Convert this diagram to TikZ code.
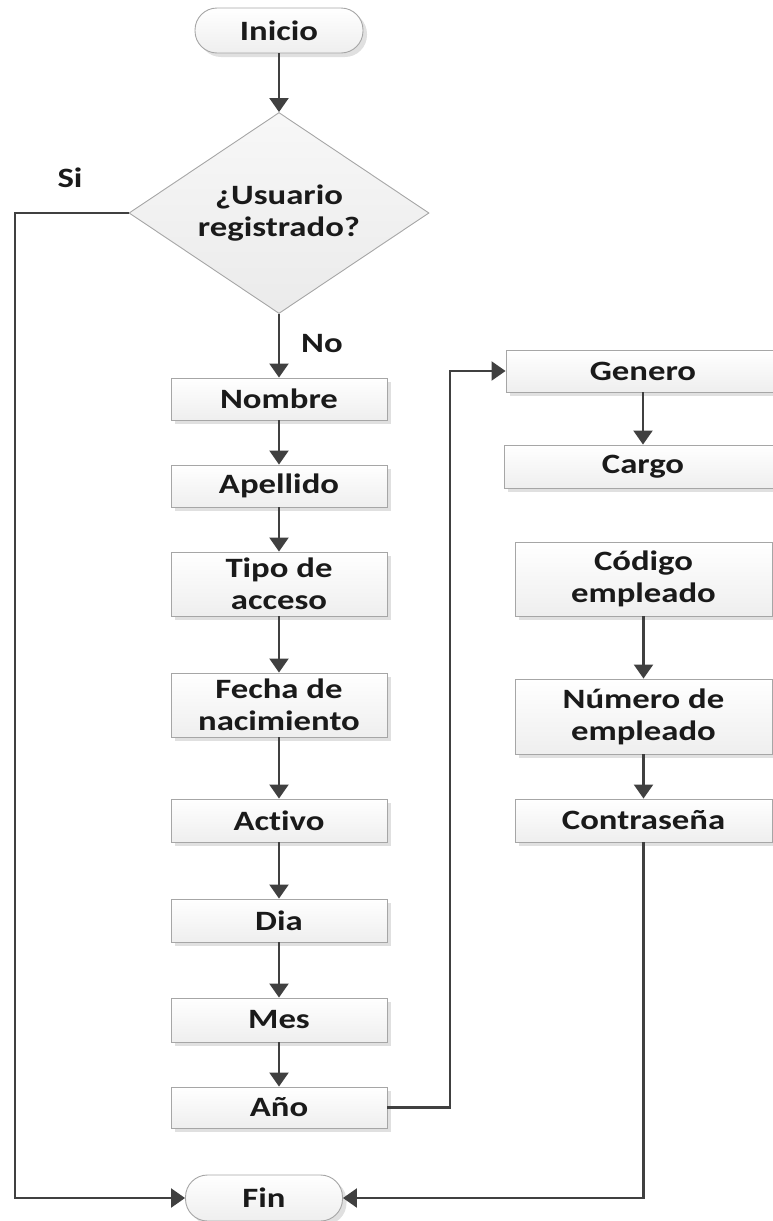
\documentclass[tikz,border=0pt]{standalone}
\usepackage{fontspec}
\setmainfont{Carlito}[FakeStretch=1.24, Ligatures={NoCommon}]
\usetikzlibrary{arrows.meta,shapes.geometric,shadows}
\definecolor{lineC}{HTML}{404040}
\definecolor{borderC}{HTML}{A6A6A6}
\definecolor{textC}{HTML}{1A1A1A}
\tikzset{
  lbl/.style={text=textC, font=\bfseries\fontsize{28}{32}\selectfont, inner sep=0pt},
  box/.style={draw=borderC, line width=0.9pt, top color=white, bottom color=gray!13,
    text=textC, align=center, inner sep=0pt, font=\bfseries\fontsize{28}{32}\selectfont,
    drop shadow={shadow xshift=4pt, shadow yshift=-4pt, fill=gray!45, opacity=0.55}},
  term/.style={box, rounded corners=22pt},
  decision/.style={diamond, draw=borderC, line width=0.9pt, top color=gray!6, bottom color=gray!16,
    text=textC, align=center, inner sep=0pt, aspect=1.49, font=\bfseries\fontsize{28}{32}\selectfont},
  conn/.style={draw=lineC, line width=2.2pt, -{Triangle[width=19pt,length=14pt]}},
  plainline/.style={draw=lineC, line width=2.2pt},
}
\begin{document}
\begin{tikzpicture}[x=1pt,y=-1pt]
\useasboundingbox (0,0) rectangle (773,1221);
\clip (0,0) rectangle (773,1221);
% left column
\node[term, minimum width=168pt, minimum height=45pt] (inicio) at (279,30.5) {Inicio};
\node[decision, minimum width=300pt, minimum height=201pt] (dec) at (279,213) {¿Usuario\\registrado?};
\node[box, minimum width=216pt, minimum height=42pt] (nombre) at (279,399) {Nombre};
\node[box, minimum width=216pt, minimum height=42pt] (apellido) at (279,486) {Apellido};
\node[box, minimum width=216pt, minimum height=64pt] (tipo) at (279,584) {Tipo de\\acceso};
\node[box, minimum width=216pt, minimum height=64pt] (fecha) at (279,705) {Fecha de\\nacimiento};
\node[box, minimum width=216pt, minimum height=43pt] (activo) at (279,820.5) {Activo};
\node[box, minimum width=216pt, minimum height=43pt] (dia) at (279,920.5) {Dia};
\node[box, minimum width=216pt, minimum height=44pt] (mes) at (279,1020) {Mes};
\node[box, minimum width=216pt, minimum height=41pt] (anio) at (279,1107.5) {Año};
\node[term, minimum width=157pt, minimum height=46pt] (fin) at (264,1198) {Fin};
% right column
\node[box, minimum width=274pt, minimum height=42pt] (genero) at (643,371) {Genero};
\node[box, minimum width=278pt, minimum height=43pt] (cargo) at (643,466.5) {Cargo};
\node[box, minimum width=257pt, minimum height=74pt] (codigo) at (643.5,579) {Código\\empleado};
\node[box, minimum width=257pt, minimum height=75pt] (numero) at (643.5,716.5) {Número de\\empleado};
\node[box, minimum width=257pt, minimum height=43pt] (contra) at (643.5,820.5) {Contraseña};
% labels
\node[lbl] (si) at (70,178) {Si};
\node[lbl] (no) at (322,344) {No};
% helper coordinates
\coordinate (sx) at (15,0);
\coordinate (ax) at (450,0);
% connectors
\draw[conn] (inicio.south) -- (dec.north);
\draw[conn] (dec.south) -- (nombre.north);
\draw[conn] (nombre) -- (apellido);
\draw[conn] (apellido) -- (tipo);
\draw[conn] (tipo) -- (fecha);
\draw[conn] (fecha) -- (activo);
\draw[conn] (activo) -- (dia);
\draw[conn] (dia) -- (mes);
\draw[conn] (mes) -- (anio);
\draw[conn] (dec.west) -- (dec.west -| sx) |- (fin.west);
\draw[conn] (anio.east) -- (anio.east -| ax) |- (genero.west);
\draw[conn] (genero) -- (cargo);
\draw[conn] (codigo) -- (numero);
\draw[conn] (numero) -- (contra);
\draw[conn] (contra.south) |- (fin.east);
\end{tikzpicture}
\end{document}
